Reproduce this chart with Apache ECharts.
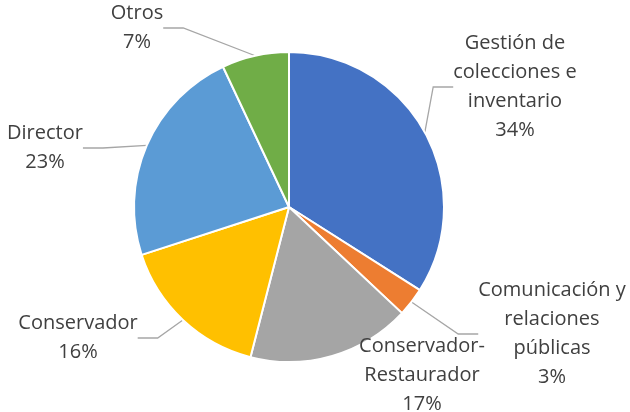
<!DOCTYPE html>
<html>
<head>
<meta charset="utf-8">
<script src="https://cdn.jsdelivr.net/npm/echarts@6/dist/echarts.min.js"></script>
<style>
  html, body { margin: 0; padding: 0; background: #fff; }
  #chart { width: 630px; height: 412px; }
</style>
</head>
<body>
<div id="chart"></div>
<script>
// roles of staff (share of responses)
const categories = [
  "Gestión de\ncolecciones e\ninventario",
  "Comunicación y\nrelaciones\npúblicas",
  "Conservador-\nRestaurador",
  "Conservador",
  "Director",
  "Otros"
];
const values = [34, 3, 17, 16, 23, 7];
const colors = ["#4472C4", "#ED7D31", "#A5A5A5", "#FFC000", "#5B9BD5", "#70AD47"];

// where each label sits (text centre), like the hand-placed labels in the original
const labelSpots = [
  [515, 87], [552, 334], [422, 375], [78, 338], [45, 148], [137, 28]
];

const chart = echarts.init(document.getElementById("chart"));

const option = {
  animation: false,
  series: [
    {
      type: "pie",
      center: [289, 207],
      radius: 155,
      startAngle: 90,
      clockwise: true,
      percentPrecision: 0,
      itemStyle: { borderColor: "#fff", borderWidth: 2 },
      label: {
        show: true,
        formatter: "{b}\n{d}%",
        fontFamily: "'Open Sans', sans-serif",
        fontSize: 20,
        lineHeight: 29,
        color: "#404040",
        align: "center"
      },
      labelLine: {
        show: true,
        length: 10,
        length2: 20,
        lineStyle: { color: "#A6A6A6", width: 1.3 }
      },
      labelLayout: (params) => {
        const p = labelSpots[params.dataIndex];
        return { x: p[0], y: p[1], align: "center", verticalAlign: "middle" };
      },
      data: categories.map((name, i) => ({
        name: name,
        value: values[i],
        itemStyle: { color: colors[i] },
        labelLine: { show: i !== 2 }
      }))
    }
  ]
};

chart.setOption(option);
window.addEventListener("resize", () => chart.resize());
</script>
</body>
</html>
